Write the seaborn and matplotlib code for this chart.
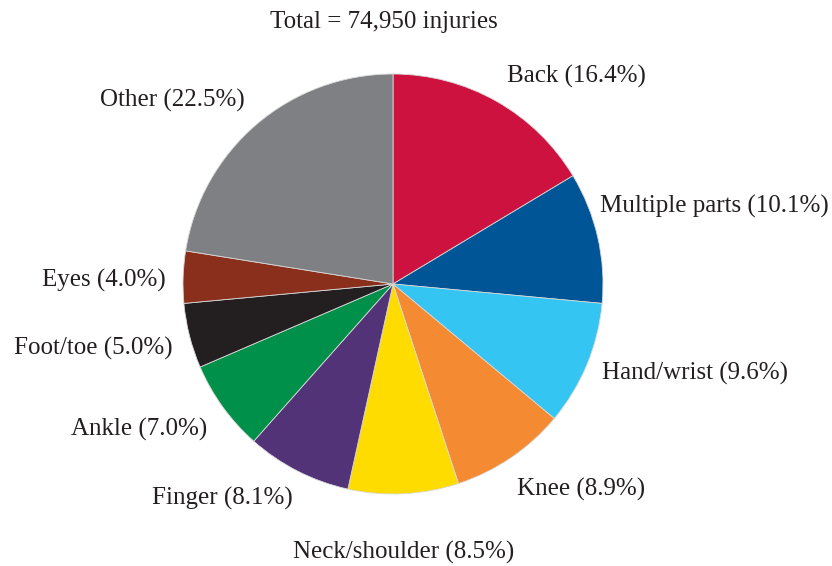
import matplotlib
matplotlib.use("Agg")
import matplotlib.pyplot as plt
import seaborn as sns

# ─── DATA ─────────────────────────────────────────────────
parts = ['Back', 'Multiple parts', 'Hand/wrist', 'Knee', 'Neck/shoulder',
         'Finger', 'Ankle', 'Foot/toe', 'Eyes', 'Other']
shares = [16.4, 10.1, 9.6, 8.9, 8.5, 8.1, 7.0, 5.0, 4.0, 22.5]
colors = ['#CE1240', '#005596', '#34C5F2', '#F48A32', '#FFDC00',
          '#533377', '#009049', '#231F20', '#8B2F1D', '#7F8083']
title = 'Total = 74,950 injuries'

# label anchors (pie radius = 1) and how each one is aligned
label_xy = [(0.543, 0.986), (0.986, 0.367), (0.995, -0.424), (0.590, -0.976),
            (0.052, -1.276), (-0.476, -1.019), (-0.886, -0.695),
            (-1.048, -0.305), (-1.081, 0.019), (-0.705, 0.876)]
label_ha = ['left', 'left', 'left', 'left', 'center',
            'right', 'right', 'right', 'right', 'right']

# ─── STYLE ────────────────────────────────────────────────
sns.set_theme(style='white')
plt.rcParams['font.family'] = ['Liberation Serif', 'DejaVu Serif']

labels = [f'{p} ({s:.1f}%)' for p, s in zip(parts, shares)]

fig = plt.figure(figsize=(8.32, 5.66), dpi=100)
ax = fig.add_axes([0, 0, 1, 1])
wedges, texts = ax.pie(shares, labels=labels, colors=colors, startangle=90,
                       counterclock=False, labeldistance=1.12,
                       wedgeprops=dict(edgecolor='#d8d8d8', linewidth=0.6),
                       textprops=dict(fontsize=18, color='#231F20'))

for t, xy, ha in zip(texts, label_xy, label_ha):
    t.set_position(xy)
    t.set_ha(ha)
    t.set_va('center')

# 210 px per data unit, pie centre at (393, 284) px
ax.set_xlim(-393 / 210, (832 - 393) / 210)
ax.set_ylim(-(566 - 284) / 210, 284 / 210)
ax.set_aspect('auto')
ax.axis('off')

fig.text(384 / 832, 1 - 22 / 566, title, ha='center', va='center',
         fontsize=18, color='#231F20')

fig.savefig('out.png', dpi=100)
